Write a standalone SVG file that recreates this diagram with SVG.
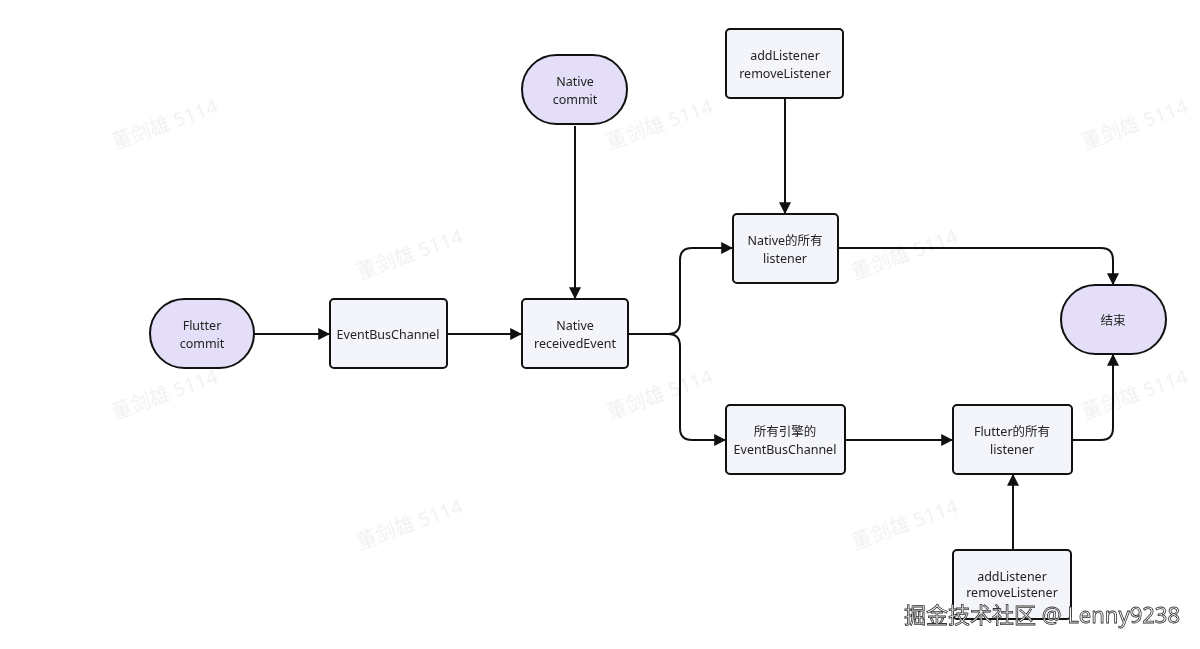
<svg xmlns="http://www.w3.org/2000/svg" width="1200" height="649" viewBox="0 0 1200 649">
<style>
.r{fill:#f3f5fb;stroke:#111;stroke-width:2}
.s{fill:#e5def8;stroke:#111;stroke-width:2}
.t{font-family:"Noto Sans","Noto Sans CJK SC",sans-serif;font-size:12.5px;fill:#222;text-anchor:middle}
.c{fill:none;stroke:#111;stroke-width:2;marker-end:url(#a)}
.w{font-family:"Noto Sans","Noto Sans CJK SC",sans-serif;font-size:20px;fill:#000;opacity:0.06}
</style>
<defs><marker id="a" viewBox="0 0 10 10" refX="9" refY="5" markerWidth="6" markerHeight="6" orient="auto"><path d="M0,0L10,5L0,10z" fill="#111"/></marker></defs>
<rect width="1200" height="649" fill="#fff"/>
<g class="w">
<text x="115" y="150" transform="rotate(-20 115 150)">董剑雄 5114</text>
<text x="115" y="420" transform="rotate(-20 115 420)">董剑雄 5114</text>
<text x="360" y="280" transform="rotate(-20 360 280)">董剑雄 5114</text>
<text x="360" y="550" transform="rotate(-20 360 550)">董剑雄 5114</text>
<text x="610" y="150" transform="rotate(-20 610 150)">董剑雄 5114</text>
<text x="610" y="420" transform="rotate(-20 610 420)">董剑雄 5114</text>
<text x="855" y="280" transform="rotate(-20 855 280)">董剑雄 5114</text>
<text x="855" y="550" transform="rotate(-20 855 550)">董剑雄 5114</text>
<text x="1085" y="150" transform="rotate(-20 1085 150)">董剑雄 5114</text>
<text x="1085" y="420" transform="rotate(-20 1085 420)">董剑雄 5114</text>
</g>
<g id="connectors">
<path class="c" d="M254,334H329"/>
<path class="c" d="M447,334H521"/>
<path class="c" d="M575,126V298"/>
<path class="c" d="M628,334H668Q680,334 680,322V260Q680,248 692,248H732"/>
<path class="c" d="M668,334Q680,334 680,346V428Q680,440 692,440H725"/>
<path class="c" d="M785,99V213"/>
<path class="c" d="M838,248H1101Q1113,248 1113,260V284"/>
<path class="c" d="M845,440H952"/>
<path class="c" d="M1072,440H1101Q1113,440 1113,428V355"/>
<path class="c" d="M1013,549V475"/>
</g>
<g id="flutter-commit"><rect class="s" x="150" y="299" width="104" height="69" rx="34.5"/><text class="t" x="202" y="330">Flutter</text><text class="t" x="202" y="348">commit</text></g>
<g id="eventbuschannel"><rect class="r" x="330" y="299" width="117" height="69" rx="4"/><text class="t" x="388" y="339">EventBusChannel</text></g>
<g id="native-received"><rect class="r" x="522" y="299" width="106" height="69" rx="4"/><text class="t" x="575" y="330">Native</text><text class="t" x="575" y="348">receivedEvent</text></g>
<g id="native-commit"><rect class="s" x="522" y="55" width="105" height="69" rx="34.5"/><text class="t" x="575" y="86">Native</text><text class="t" x="575" y="104">commit</text></g>
<g id="add-top"><rect class="r" x="726" y="29" width="117" height="69" rx="4"/><text class="t" x="785" y="60">addListener</text><text class="t" x="785" y="78">removeListener</text></g>
<g id="native-listener"><rect class="r" x="733" y="214" width="105" height="69" rx="4"/><text class="t" x="785" y="245">Native的所有</text><text class="t" x="785" y="263">listener</text></g>
<g id="end"><rect class="s" x="1061" y="285" width="105" height="69" rx="34.5"/><text class="t" x="1113" y="325">结束</text></g>
<g id="all-engines"><rect class="r" x="726" y="405" width="119" height="69" rx="4"/><text class="t" x="785" y="436">所有引擎的</text><text class="t" x="785" y="454">EventBusChannel</text></g>
<g id="flutter-listener"><rect class="r" x="953" y="405" width="119" height="69" rx="4"/><text class="t" x="1012" y="436">Flutter的所有</text><text class="t" x="1012" y="454">listener</text></g>
<g id="add-bottom"><rect class="r" x="953" y="550" width="118" height="69" rx="4"/><text class="t" x="1012" y="581">addListener</text><text class="t" x="1012" y="597">removeListener</text></g>
<text x="1180" y="623" text-anchor="end" font-family="Noto Sans,Noto Sans CJK SC,sans-serif" font-size="22" fill="#fff" stroke="#333" stroke-width="0.8">掘金技术社区 @ Lenny9238</text>
</svg>
